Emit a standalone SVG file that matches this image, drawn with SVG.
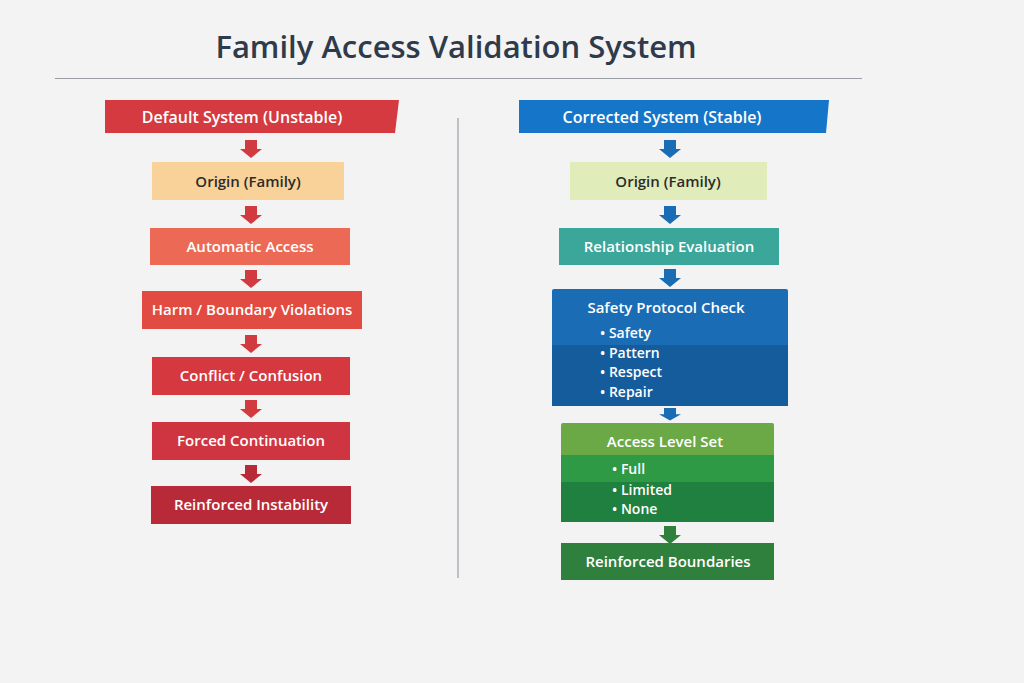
<svg xmlns="http://www.w3.org/2000/svg" width="1024" height="683" viewBox="0 0 1024 683">
<style>
text{font-family:"Open Sans","Noto Sans","Liberation Sans",sans-serif;font-weight:600;text-anchor:middle}
.w{fill:#fff;font-size:15px}
.d{fill:#2b2b2b;font-size:15px}
.b{fill:#fff;font-size:14px;text-anchor:start}
</style>
<defs>
<path id="arr" d="M-6,0 H6 V9 H11 L0,18 L-11,9 H-6 Z"/>
</defs>
<rect width="1024" height="683" fill="#f3f3f4"/>
<text x="456" y="58" style="font-size:31px;fill:#2f3a4a">Family Access Validation System</text>
<line x1="55" y1="78.5" x2="862" y2="78.5" stroke="#9a9ea4" stroke-width="1.2"/>
<line x1="458" y1="118" x2="458" y2="578" stroke="#9a9ea4" stroke-width="1.2"/>

<g id="connectors">
<use href="#arr" x="251" y="140" fill="#d13a3f"/>
<use href="#arr" x="251" y="206" fill="#d13a3f"/>
<use href="#arr" x="251" y="270" fill="#d13a3f"/>
<use href="#arr" x="251" y="335" fill="#d13a3f"/>
<use href="#arr" x="251" y="400" fill="#d13a3f"/>
<use href="#arr" x="251" y="465" fill="#b82a37"/>
<use href="#arr" x="670" y="140" fill="#1a6db5"/>
<use href="#arr" x="670" y="206" fill="#1a6db5"/>
<use href="#arr" x="670" y="269" fill="#1a6db5"/>
<use href="#arr" x="670" y="408" fill="#1a6db5" transform="translate(670 408) scale(1 0.7) translate(-670 -408)"/>
<use href="#arr" x="670" y="526" fill="#2f7f3d"/>
</g>

<g id="left-header"><path d="M105,100 H399 L395,133 H105 Z" fill="#d43a3f"/><text class="w" x="242" y="123" style="font-size:16px">Default System (Unstable)</text></g>
<g id="l-origin"><rect x="152" y="162" width="192" height="38" fill="#f9d29a" rx="1"/><text class="d" x="248" y="187">Origin (Family)</text></g>
<g id="l-auto"><rect x="150" y="228" width="200" height="37" fill="#ec6a55"/><text class="w" x="250" y="252">Automatic Access</text></g>
<g id="l-harm"><rect x="142" y="291" width="220" height="38" fill="#e14b41"/><text class="w" x="252" y="315">Harm / Boundary Violations</text></g>
<g id="l-conflict"><rect x="152" y="357" width="198" height="38" fill="#d5383f"/><text class="w" x="251" y="381">Conflict / Confusion</text></g>
<g id="l-forced"><rect x="152" y="422" width="198" height="38" fill="#cf3540"/><text class="w" x="251" y="446">Forced Continuation</text></g>
<g id="l-reinf"><rect x="151" y="486" width="200" height="38" fill="#b82a37"/><text class="w" x="251" y="510">Reinforced Instability</text></g>

<g id="right-header"><path d="M519,100 H829 L826,133 H519 Z" fill="#1575c8"/><text class="w" x="662" y="123" style="font-size:16px">Corrected System (Stable)</text></g>
<g id="r-origin"><rect x="570" y="162" width="197" height="38" fill="#e0edba"/><text class="d" x="668" y="187">Origin (Family)</text></g>
<g id="r-rel"><rect x="559" y="228" width="220" height="37" fill="#3ba69a"/><text class="w" x="669" y="252">Relationship Evaluation</text></g>
<g id="r-safety">
<rect x="552" y="289" width="236" height="117" fill="#1a6db5" rx="2"/>
<rect x="552" y="345" width="236" height="61" fill="#155c9d"/>
<text class="w" x="666" y="313">Safety Protocol Check</text>
<text class="b" x="600" y="338">• Safety</text>
<text class="b" x="600" y="358">• Pattern</text>
<text class="b" x="600" y="377">• Respect</text>
<text class="b" x="600" y="397">• Repair</text>
</g>
<g id="r-access">
<rect x="561" y="423" width="213" height="99" fill="#6aa945" rx="2"/>
<rect x="561" y="455" width="213" height="27" fill="#2e9a45"/>
<rect x="561" y="482" width="213" height="40" fill="#1f8040"/>
<text class="w" x="665" y="447">Access Level Set</text>
<text class="b" x="612" y="474">• Full</text>
<text class="b" x="612" y="495">• Limited</text>
<text class="b" x="612" y="514">• None</text>
</g>
<g id="r-reinf"><rect x="561" y="543" width="213" height="37" fill="#2f7f3d"/><text class="w" x="668" y="567">Reinforced Boundaries</text></g>
</svg>
